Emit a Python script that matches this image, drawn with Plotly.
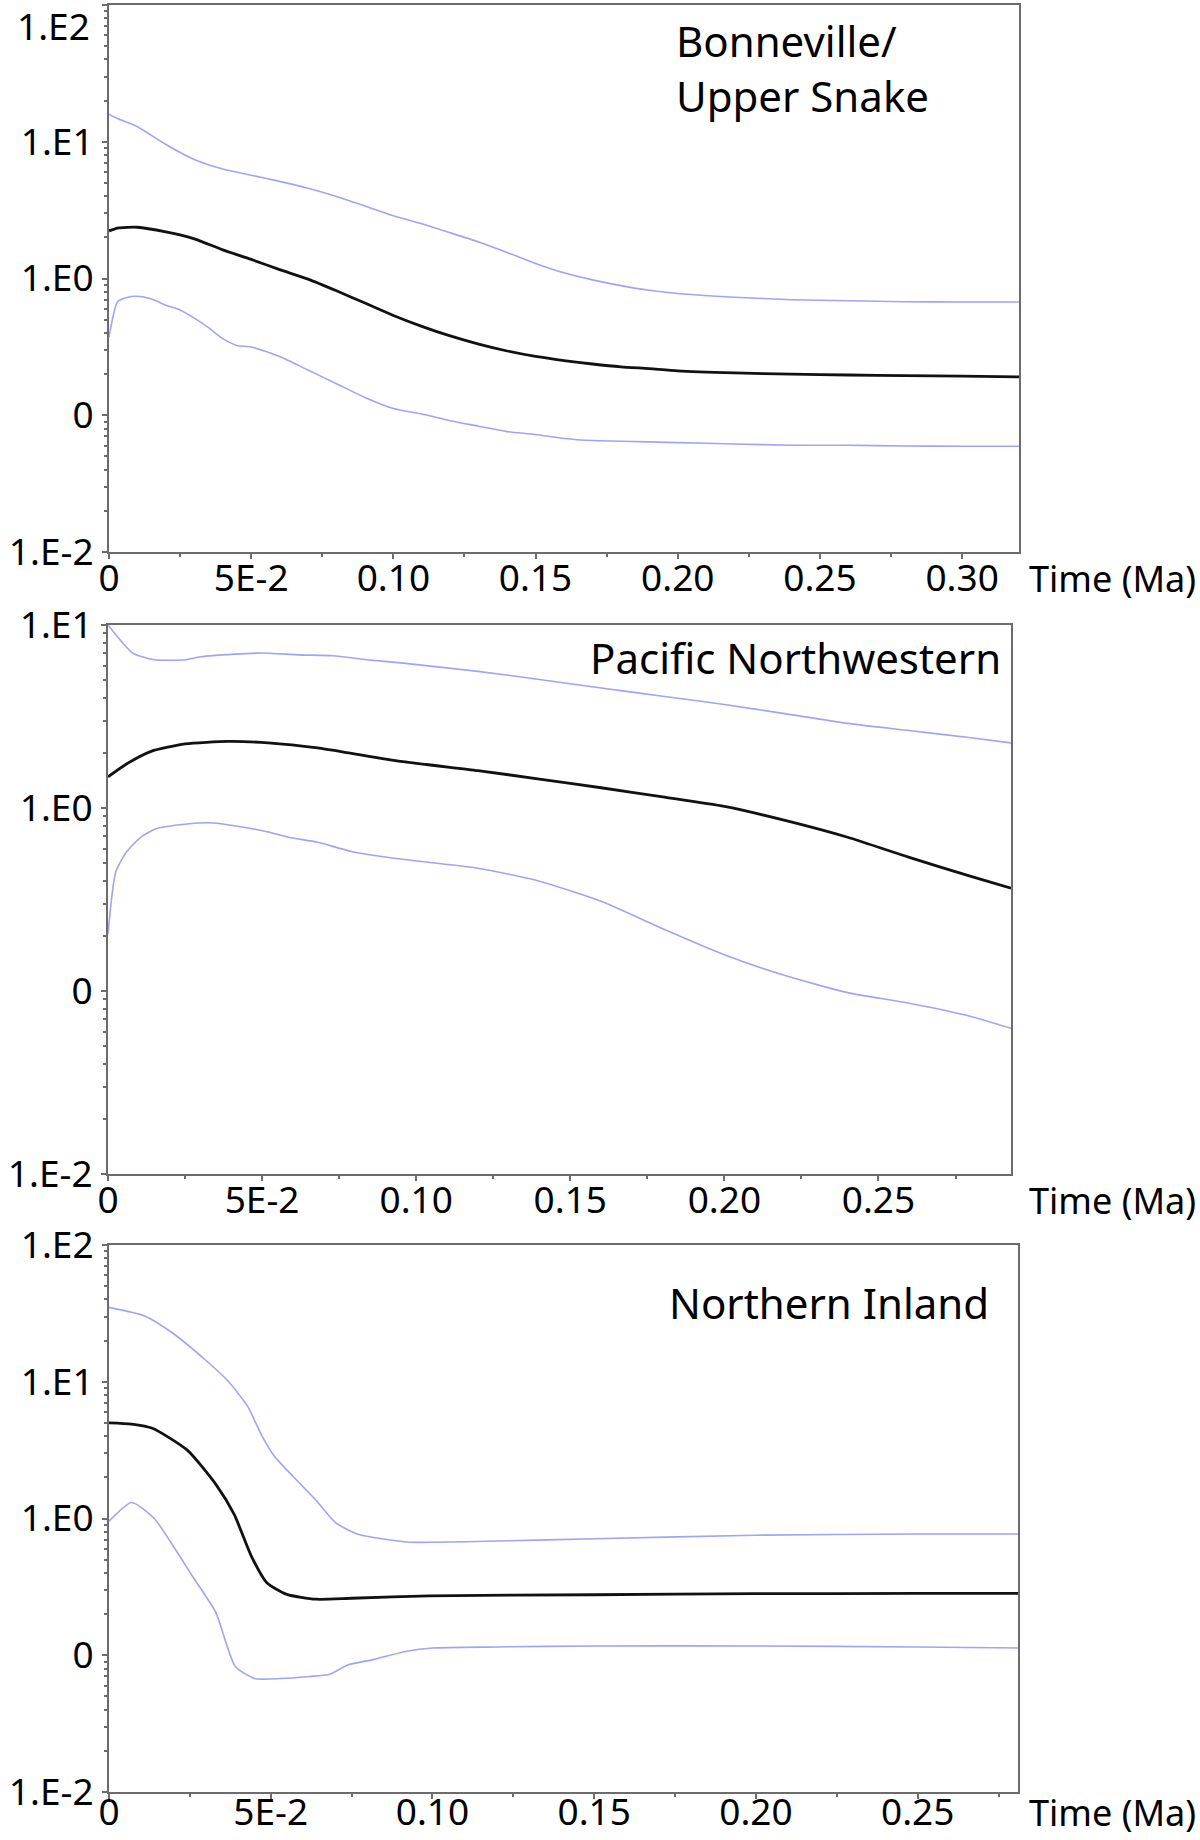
import plotly.graph_objects as go

# ---------------- data (effective population size vs time, Ma) ----------------
# Panel 1: Bonneville / Upper Snake
p1_x_mid = [0, 0.003, 0.01, 0.02, 0.03, 0.04, 0.05, 0.06, 0.07, 0.08, 0.09, 0.10, 0.11, 0.12, 0.13,
            0.14, 0.15, 0.16, 0.17, 0.18, 0.19, 0.20, 0.22, 0.24, 0.26, 0.28, 0.30, 0.32]
p1_mid = [2.23, 2.34, 2.37, 2.19, 1.95, 1.62, 1.38, 1.16, 0.989, 0.813, 0.661, 0.537, 0.447, 0.380,
          0.331, 0.295, 0.269, 0.251, 0.237, 0.226, 0.219, 0.211, 0.204, 0.200, 0.197, 0.195, 0.193, 0.191]
p1_x_up = p1_x_mid
p1_up = [15.85, 14.79, 12.88, 9.55, 7.41, 6.31, 5.69, 5.13, 4.57, 3.98, 3.39, 2.88, 2.51, 2.16,
         1.85, 1.55, 1.29, 1.10, 0.977, 0.887, 0.820, 0.776, 0.729, 0.700, 0.687, 0.676, 0.673, 0.673]
p1_x_lo = [0, 0.003, 0.006, 0.01, 0.015, 0.02, 0.025, 0.03, 0.035, 0.04, 0.045, 0.05, 0.06, 0.07,
           0.08, 0.09, 0.10, 0.11, 0.12, 0.13, 0.14, 0.15, 0.16, 0.17, 0.18, 0.20, 0.22, 0.24,
           0.26, 0.28, 0.30, 0.32]
p1_lo = [0.372, 0.676, 0.724, 0.741, 0.708, 0.638, 0.589, 0.513, 0.437, 0.363, 0.324, 0.316, 0.269,
         0.214, 0.170, 0.135, 0.112, 0.102, 0.0912, 0.0832, 0.0759, 0.0724, 0.0676, 0.0653, 0.0646,
         0.0631, 0.0617, 0.0603, 0.0603, 0.0596, 0.0593, 0.0593]

# Panel 2: Pacific Northwestern
p2_x_mid = [0, 0.006, 0.014, 0.025, 0.039, 0.052, 0.068, 0.079, 0.095, 0.12, 0.14, 0.16, 0.18,
            0.20, 0.22, 0.24, 0.26, 0.28, 0.293]
p2_mid = [1.48, 1.74, 2.04, 2.24, 2.31, 2.27, 2.13, 1.99, 1.80, 1.60, 1.44, 1.29, 1.15, 1.02,
          0.853, 0.692, 0.537, 0.423, 0.365]
p2_x_up = [0, 0.008, 0.015, 0.025, 0.030, 0.041, 0.050, 0.062, 0.073, 0.084, 0.095, 0.12, 0.14,
           0.16, 0.18, 0.20, 0.22, 0.24, 0.26, 0.28, 0.293]
p2_up = [10.0, 7.03, 6.46, 6.46, 6.70, 6.93, 7.03, 6.87, 6.79, 6.46, 6.21, 5.58, 5.04, 4.53,
         4.08, 3.68, 3.27, 2.90, 2.65, 2.42, 2.27]
p2_x_lo = [0, 0.0025, 0.006, 0.011, 0.016, 0.025, 0.033, 0.041, 0.052, 0.059, 0.068, 0.079,
           0.095, 0.12, 0.14, 0.16, 0.18, 0.20, 0.22, 0.24, 0.26, 0.28, 0.293]
p2_lo = [0.205, 0.447, 0.575, 0.700, 0.774, 0.815, 0.830, 0.800, 0.740, 0.690, 0.650, 0.579,
         0.526, 0.469, 0.398, 0.309, 0.219, 0.158, 0.121, 0.098, 0.0857, 0.0726, 0.0625]

# Panel 3: Northern Inland
p3_x_mid = [0, 0.007, 0.0134, 0.0242, 0.0333, 0.0387, 0.0441, 0.0488, 0.055, 0.064, 0.075,
            0.099, 0.15, 0.20, 0.25, 0.281]
p3_mid = [5.01, 4.90, 4.57, 3.16, 1.74, 1.07, 0.525, 0.339, 0.279, 0.257, 0.261, 0.272, 0.277,
          0.282, 0.283, 0.283]
p3_x_up = [0, 0.011, 0.019, 0.030, 0.037, 0.043, 0.047, 0.051, 0.057, 0.064, 0.070, 0.077,
           0.092, 0.10, 0.12, 0.15, 0.20, 0.25, 0.281]
p3_up = [35.0, 30.3, 23.3, 14.3, 10.0, 6.53, 4.14, 2.88, 2.02, 1.36, 0.933, 0.767, 0.673, 0.670,
         0.684, 0.711, 0.755, 0.771, 0.771]
p3_x_lo = [0, 0.007, 0.014, 0.019, 0.026, 0.033, 0.039, 0.045, 0.053, 0.062, 0.068, 0.074,
           0.082, 0.092, 0.10, 0.12, 0.15, 0.20, 0.25, 0.281]
p3_lo = [0.955, 1.31, 1.00, 0.676, 0.372, 0.206, 0.0832, 0.0676, 0.0676, 0.0700, 0.0724, 0.0851,
         0.0933, 0.107, 0.113, 0.115, 0.117, 0.117, 0.115, 0.113]

panel_titles = ["Bonneville/<br>Upper Snake", "Pacific Northwestern", "Northern Inland"]
x_label = "Time (Ma)"
x_tickvals = [0, 0.05, 0.10, 0.15, 0.20, 0.25, 0.30]
x_ticktext = ["0", "5E-2", "0.10", "0.15", "0.20", "0.25", "0.30"]
y_tickvals = [0.01, 0.1, 1, 10, 100]
y_ticktext = ["1.E-2", "0", "1.E0", "1.E1", "1.E2"]

# ---------------- styling ----------------
W, H = 1200, 1840
FONT = "Noto Sans"
BLUE = "#a3a3f2"
BLACK = "#111111"
AXIS = "#6c6c6c"
TICKFONT = 37

panels = [
    dict(mid=(p1_x_mid, p1_mid), up=(p1_x_up, p1_up), lo=(p1_x_lo, p1_lo),
         xr=[0, 0.32], yr=[-2, 2], left=109, right=1019, top=5, bottom=552,
         xstand=-12, xlab_off=26),
    dict(mid=(p2_x_mid, p2_mid), up=(p2_x_up, p2_up), lo=(p2_x_lo, p2_lo),
         xr=[0, 0.293], yr=[-2, 1], left=108, right=1011, top=625, bottom=1174,
         xstand=-12, xlab_off=26),
    dict(mid=(p3_x_mid, p3_mid), up=(p3_x_up, p3_up), lo=(p3_x_lo, p3_lo),
         xr=[0, 0.281], yr=[-2, 2], left=109, right=1018, top=1245, bottom=1792,
         xstand=-18, xlab_off=20),
]

fig = go.Figure()
layout = dict(width=W, height=H, margin=dict(l=0, r=0, t=0, b=0, autoexpand=False),
              paper_bgcolor="white", plot_bgcolor="white", showlegend=False,
              font=dict(family=FONT, color="black", size=TICKFONT))
annotations = []

for i, p in enumerate(panels):
    n = i + 1
    xa = "x" if n == 1 else f"x{n}"
    ya = "y" if n == 1 else f"y{n}"
    for key, color, width in (("up", BLUE, 1.6), ("lo", BLUE, 1.6), ("mid", BLACK, 2.8)):
        xs, ys = p[key]
        fig.add_trace(go.Scatter(x=xs, y=ys, mode="lines", xaxis=xa, yaxis=ya,
                                 line=dict(color=color, width=width, shape="spline", smoothing=0.6),
                                 hoverinfo="skip"))
    # the top label of the first panel sits at the very top edge of the figure;
    # it is drawn as an annotation nudged just inside the picture
    yt_text = list(y_ticktext)
    if n == 1:
        yt_text[-1] = ""
        annotations.append(dict(text=y_ticktext[-1], xref="paper", yref=ya, x=92 / W, y=2,
                                xanchor="right", yanchor="middle", yshift=-21, showarrow=False,
                                font=dict(size=TICKFONT, family=FONT)))
    layout[f"xaxis{'' if n == 1 else n}"] = dict(
        domain=[p["left"] / W, p["right"] / W], anchor=ya, range=p["xr"], automargin=False,
        tickmode="array", tickvals=x_tickvals, ticktext=x_ticktext,
        ticks="outside", ticklen=5, tickwidth=1.5, tickcolor=AXIS,
        minor=dict(dtick=0.025, tick0=0, ticks="outside", ticklen=3, tickcolor=AXIS, showgrid=False),
        showline=True, linecolor=AXIS, linewidth=2, mirror=True,
        showgrid=False, zeroline=False, tickfont=dict(size=TICKFONT, family=FONT),
        ticklabelstandoff=p["xstand"], ticklabeloverflow="allow")
    layout[f"yaxis{'' if n == 1 else n}"] = dict(
        domain=[1 - p["bottom"] / H, 1 - p["top"] / H], anchor=xa, type="log", range=p["yr"],
        automargin=False,
        tickmode="array", tickvals=y_tickvals, ticktext=yt_text,
        ticks="outside", ticklen=5, tickwidth=1.5, tickcolor=AXIS,
        minor=dict(dtick="D1", ticks="outside", ticklen=3, tickcolor=AXIS, showgrid=False),
        showline=True, linecolor=AXIS, linewidth=2, mirror=True,
        showgrid=False, zeroline=False, tickfont=dict(size=TICKFONT, family=FONT),
        ticklabelstandoff=1, ticklabeloverflow="allow")
    # x axis title placed to the right of the tick labels
    annotations.append(dict(text=x_label, xref="paper", yref="paper",
                            x=1198 / W, y=1 - (p["bottom"] + p["xlab_off"]) / H,
                            xanchor="right", yanchor="middle", showarrow=False,
                            font=dict(size=36, family=FONT)))

annotations.append(dict(text=panel_titles[0], xref="paper", yref="paper", x=674 / W, y=1 - 68 / H,
                        xanchor="left", yanchor="middle", align="left", showarrow=False,
                        font=dict(size=42, family=FONT)))
annotations.append(dict(text=panel_titles[1], xref="paper", yref="paper", x=1003 / W, y=1 - 657 / H,
                        xanchor="right", yanchor="middle", showarrow=False,
                        font=dict(size=42, family=FONT)))
annotations.append(dict(text=panel_titles[2], xref="paper", yref="paper", x=991 / W, y=1 - 1302 / H,
                        xanchor="right", yanchor="middle", showarrow=False,
                        font=dict(size=42, family=FONT)))
layout["annotations"] = annotations
fig.update_layout(**layout)

fig.write_html("out.html", config={"displayModeBar": False},
               post_script="document.body.style.margin='0';")
